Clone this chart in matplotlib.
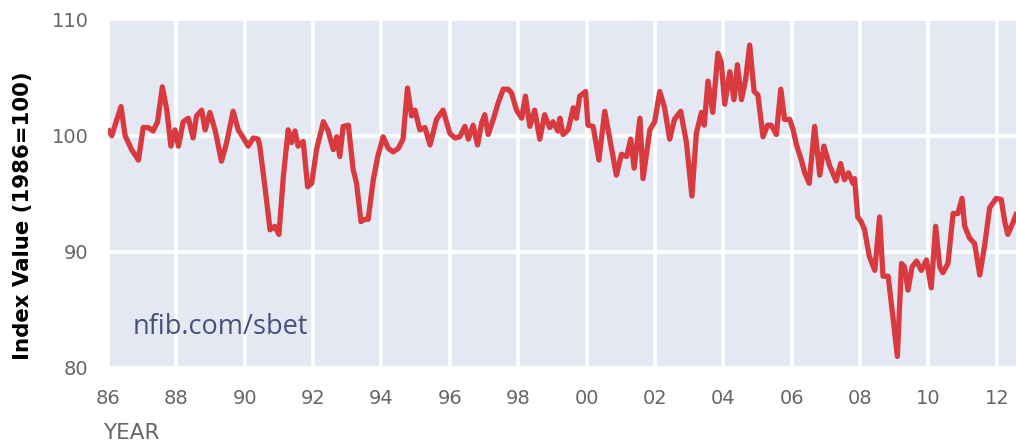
import matplotlib
matplotlib.use("Agg")
import matplotlib.pyplot as plt

# NFIB small business optimism index (year, index value)
years = [
    1986.03, 1986.11, 1986.38, 1986.50, 1986.69, 1986.89, 1987.03, 1987.18, 1987.32, 1987.45,
    1987.59, 1987.72, 1987.84, 1987.96, 1988.06, 1988.20, 1988.35, 1988.49, 1988.59, 1988.74,
    1988.84, 1988.98, 1989.13, 1989.32, 1989.47, 1989.66, 1989.81, 1989.96, 1990.10, 1990.25,
    1990.39, 1990.44, 1990.59, 1990.74, 1990.88, 1991.00, 1991.13, 1991.27, 1991.37, 1991.47,
    1991.56, 1991.71, 1991.84, 1991.96, 1992.10, 1992.30, 1992.44, 1992.59, 1992.69, 1992.78,
    1992.88, 1993.03, 1993.17, 1993.27, 1993.40, 1993.51, 1993.61, 1993.76, 1993.89, 1994.05,
    1994.20, 1994.34, 1994.49, 1994.63, 1994.76, 1994.88, 1994.98, 1995.12, 1995.27, 1995.42,
    1995.61, 1995.80, 1996.00, 1996.15, 1996.29, 1996.44, 1996.54, 1996.68, 1996.81, 1996.93,
    1997.02, 1997.12, 1997.27, 1997.41, 1997.56, 1997.70, 1997.80, 1997.95, 1998.10, 1998.21,
    1998.34, 1998.48, 1998.63, 1998.77, 1998.92, 1999.02, 1999.16, 1999.22, 1999.31, 1999.46,
    1999.61, 1999.70, 1999.80, 1999.97, 2000.04, 2000.19, 2000.36, 2000.53, 2000.68, 2000.87,
    2001.02, 2001.17, 2001.29, 2001.39, 2001.56, 2001.65, 2001.85, 2001.99, 2002.14, 2002.28,
    2002.43, 2002.57, 2002.75, 2002.92, 2003.08, 2003.21, 2003.36, 2003.44, 2003.55, 2003.69,
    2003.84, 2003.94, 2004.04, 2004.19, 2004.31, 2004.41, 2004.53, 2004.65, 2004.77, 2004.90,
    2005.01, 2005.16, 2005.29, 2005.40, 2005.55, 2005.68, 2005.79, 2005.94, 2006.04, 2006.14,
    2006.28, 2006.38, 2006.51, 2006.67, 2006.82, 2006.94, 2007.11, 2007.30, 2007.43, 2007.54,
    2007.66, 2007.79, 2007.84, 2007.93, 2008.03, 2008.13, 2008.27, 2008.43, 2008.57, 2008.67,
    2008.82, 2008.96, 2009.09, 2009.21, 2009.30, 2009.40, 2009.52, 2009.65, 2009.79, 2009.94,
    2010.08, 2010.21, 2010.33, 2010.42, 2010.57, 2010.72, 2010.86, 2010.98, 2011.06, 2011.20,
    2011.35, 2011.50, 2011.64, 2011.79, 2011.98, 2012.13, 2012.23, 2012.32, 2012.47, 2012.56,
]
index_values = [
    100.4, 100.0, 102.5, 100.0, 98.8, 97.9, 100.7, 100.7, 100.4, 101.2,
    104.2, 102.2, 99.1, 100.5, 99.1, 101.2, 101.5, 99.8, 101.7, 102.2,
    100.5, 102.0, 100.5, 97.8, 99.4, 102.1, 100.5, 99.8, 99.1, 99.8,
    99.7, 99.1, 95.6, 91.9, 92.2, 91.5, 96.5, 100.5, 99.4, 100.4,
    99.1, 99.5, 95.6, 95.9, 98.8, 101.2, 100.4, 98.8, 99.9, 98.2,
    100.8, 100.9, 97.1, 95.9, 92.6, 92.8, 92.8, 96.2, 98.2, 99.9,
    98.9, 98.6, 98.9, 99.7, 104.1, 101.7, 102.2, 100.5, 100.7, 99.2,
    101.4, 102.2, 100.2, 99.8, 99.9, 100.8, 99.7, 100.9, 99.2, 101.1,
    101.8, 100.1, 101.4, 102.8, 104.0, 104.0, 103.7, 102.2, 101.5, 103.4,
    100.8, 102.2, 99.7, 101.8, 100.7, 101.2, 100.4, 101.5, 100.1, 100.5,
    102.4, 101.5, 103.4, 103.8, 100.9, 100.8, 97.9, 102.1, 99.7, 96.6,
    98.4, 98.2, 99.7, 97.2, 101.5, 96.3, 100.5, 101.2, 103.8, 102.4,
    99.7, 101.4, 102.1, 99.4, 94.8, 100.2, 102.0, 100.9, 104.7, 102.0,
    107.1, 106.3, 102.7, 105.5, 103.1, 106.1, 103.1, 104.8, 107.8, 103.8,
    103.5, 99.9, 100.9, 100.9, 100.1, 104.0, 101.4, 101.4, 100.5, 99.2,
    97.9, 96.8, 95.9, 100.8, 96.6, 99.1, 97.4, 96.1, 97.6, 96.2,
    96.8, 95.9, 96.3, 93.0, 92.6, 91.9, 89.6, 88.4, 93.0, 87.9,
    87.9, 84.4, 81.0, 89.0, 88.7, 86.7, 88.7, 89.2, 88.4, 89.3,
    86.9, 92.2, 88.7, 88.2, 89.0, 93.3, 93.3, 94.6, 92.2, 91.2,
    90.7, 88.0, 90.5, 93.8, 94.6, 94.5, 92.6, 91.5, 92.5, 93.2,
]

tick_years = list(range(1986, 2013, 2))
tick_labels = ["%02d" % (y % 100) for y in tick_years]
y_ticks = [80, 90, 100, 110]

BG = "#E4E8F2"
LINE = "#D83A3F"
TXT = "#666666"

fig = plt.figure(figsize=(10.16, 4.46), dpi=100)
ax = fig.add_axes([0.1063, 0.1749, 0.8937, 0.7814])
ax.set_facecolor(BG)

ax.plot(years, index_values, color=LINE, linewidth=3.8, solid_joinstyle="round")

ax.set_xlim(1986, 2012.56)
ax.set_ylim(80, 110)
ax.set_xticks(tick_years)
ax.set_xticklabels(tick_labels)
ax.set_yticks(y_ticks)
ax.grid(True, color="white", linewidth=2.6)
ax.set_axisbelow(True)
for s in ax.spines.values():
    s.set_visible(False)
ax.tick_params(length=0, labelsize=14, labelcolor=TXT, labelfontfamily="DejaVu Sans")
ax.tick_params(axis="x", pad=15)
ax.tick_params(axis="y", pad=14)

# axis titles placed as figure text to match the reference offsets
fig.text(0.023, 0.516, "Index Value (1986=100)", rotation=90, fontsize=15.3,
         fontweight="bold", family="DejaVu Sans", color="black", ha="center", va="center")
fig.text(0.101, 0.029, "YEAR", fontsize=15.5, color=TXT, family="DejaVu Sans", va="center")
ax.text(0.0275, 0.118, "nfib.com/sbet", transform=ax.transAxes, fontsize=19.5,
        color="#46507a", family="Open Sans", va="center")

fig.savefig("out.png", dpi=100)
